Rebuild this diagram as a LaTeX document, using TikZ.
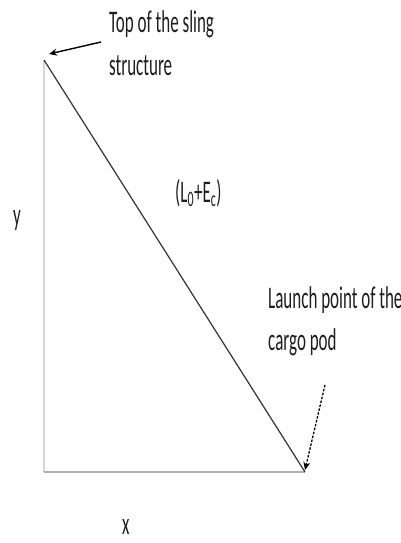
\documentclass[tikz,border=0pt]{standalone}
\usepackage{fontspec}
\setmainfont{Carlito}
\usetikzlibrary{arrows.meta}
\definecolor{txt}{HTML}{1E1E1E}
\definecolor{axisv}{HTML}{D6D6D6}
\definecolor{axish}{HTML}{B0B0B0}
\definecolor{diag}{HTML}{333333}
\newcommand{\stretchtxt}[1]{\scalebox{1}[1.85]{\fontsize{17}{23.24}\selectfont #1}}
\tikzset{
  lbl/.style={inner sep=0pt, anchor=base west, text=txt},
  pointer/.style={-{Stealth[length=8pt,width=7pt]}, line width=1.4pt, draw=black},
}
\begin{document}
\begin{tikzpicture}[x=1pt,y=-1pt]
\useasboundingbox (0,0) rectangle (401,543);
\coordinate (top) at (44,60);
\coordinate (corner) at (44,472);
\coordinate (launch) at (305,472);
\coordinate (topstart) at (101,42);
\coordinate (toptip) at (49,54);
\coordinate (launchstart) at (325,385);
\coordinate (launchtip) at (305,470);
\draw[axisv, line width=2pt] (top) -- (corner);
\draw[axish, line width=2.6pt] (corner) -- (launch);
\draw[diag, line width=1.2pt] (top) -- (launch);
\draw[pointer] (topstart) -- (toptip);
\draw[pointer, line width=1.3pt, dash pattern=on 2.5pt off 1.5pt] (launchstart) -- (launchtip);
\node[lbl] (toplbl) at (109,33) {\stretchtxt{\begin{tabular}[t]{@{}l@{}}Top of the sling\\structure\end{tabular}}};
\node[lbl] (launchlbl) at (268,308) {\stretchtxt{\begin{tabular}[t]{@{}l@{}}Launch point of the\\cargo pod\end{tabular}}};
\node[lbl] (lenlbl) at (175,202) {\stretchtxt{(L\textsubscript{0}+E\textsubscript{c})}};
\node[lbl] (ylbl) at (13,225) {\stretchtxt{y}};
\node[lbl] (xlbl) at (122,534) {\stretchtxt{x}};
\end{tikzpicture}
\end{document}
